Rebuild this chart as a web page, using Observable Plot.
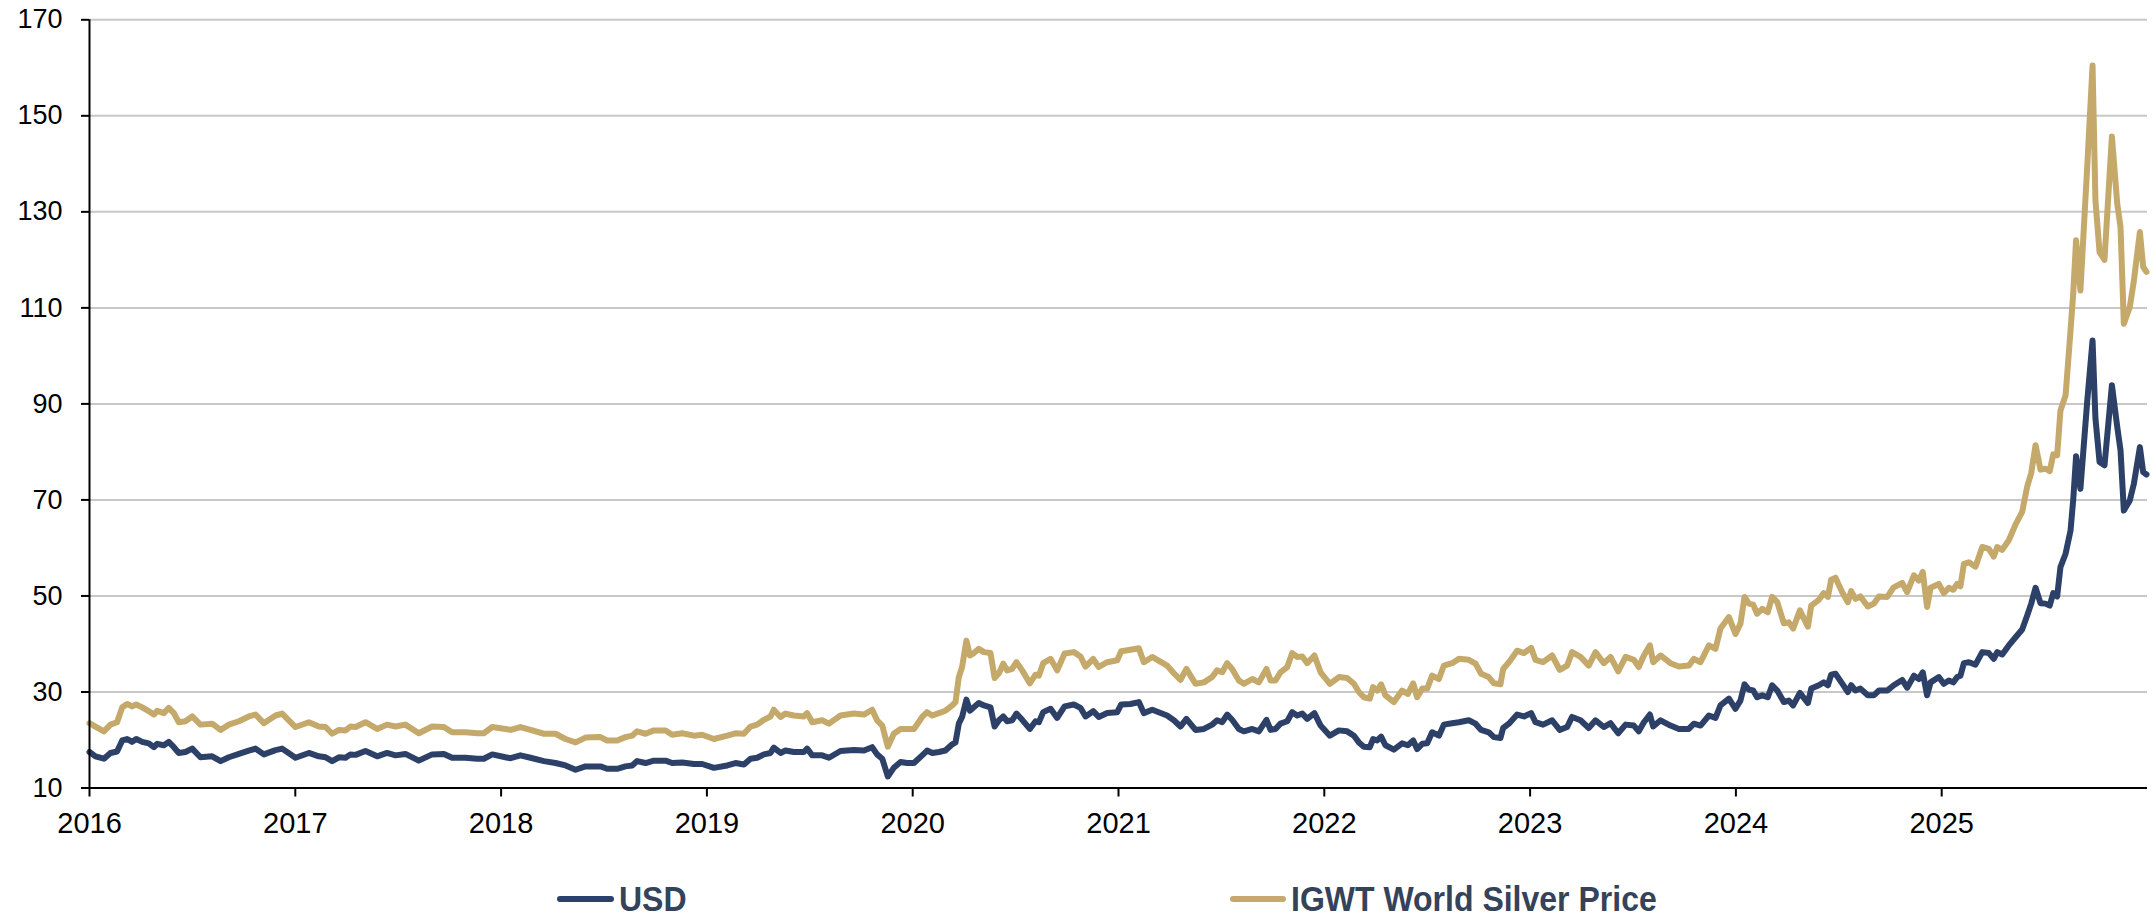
<!DOCTYPE html>
<html><head><meta charset="utf-8">
<script src="https://cdn.jsdelivr.net/npm/d3@7"></script>
<script src="https://cdn.jsdelivr.net/npm/@observablehq/plot@0.6"></script>
<style>
html,body{margin:0;padding:0;background:#fff;}
#chart{position:relative;width:2154px;height:915px;font-family:"Liberation Sans",Arial,sans-serif;}
#legend{position:absolute;left:0;top:877px;width:2154px;height:44px;}
.item{position:absolute;top:0;height:44px;display:flex;align-items:center;}
.sw{height:6px;border-radius:3px;}
.lab{font-weight:bold;font-size:32px;color:#34425a;margin-left:5px;transform:scaleY(1.1);white-space:nowrap;line-height:1;}
</style></head>
<body>
<div id="chart"><div id="plot"></div>
<div id="legend">
  <div class="item" style="left:557px"><div class="sw" style="width:57px;background:#2d4168"></div><span class="lab">USD</span></div>
  <div class="item" style="left:1230px"><div class="sw" style="width:56px;background:#c4a96b"></div><span class="lab">IGWT World Silver Price</span></div>
</div></div>
<script>
const years = [
2016.000,2016.029,2016.070,2016.102,2016.134,2016.159,2016.183,2016.207,2016.227,2016.256,2016.288,2016.313,2016.329,2016.361,2016.385,2016.410,2016.434,2016.466,2016.499,2016.539,2016.596,2016.637,2016.677,2016.726,2016.774,2016.807,2016.847,2016.904,2016.936,2017.001,2017.066,2017.114,2017.147,2017.179,2017.212,2017.244,2017.268,2017.293,2017.341,2017.398,2017.446,2017.487,2017.535,2017.600,2017.665,2017.722,2017.762,2017.827,2017.884,2017.916,2017.957,2018.021,
2018.046,2018.094,2018.143,2018.208,2018.264,2018.313,2018.362,2018.410,2018.483,2018.515,2018.564,2018.604,2018.637,2018.661,2018.702,2018.742,2018.799,2018.831,2018.880,2018.937,2018.977,2019.034,2019.099,2019.139,2019.180,2019.212,2019.244,2019.277,2019.309,2019.325,2019.358,2019.382,2019.422,2019.471,2019.487,2019.512,2019.560,2019.593,2019.649,2019.714,2019.763,2019.803,2019.827,2019.852,2019.879,2019.908,2019.941,2019.973,2020.006,
2020.046,2020.070,2020.095,2020.127,2020.159,2020.192,2020.208,2020.224,2020.240,2020.261,2020.278,2020.297,2020.321,2020.346,2020.378,2020.398,2020.419,2020.440,2020.459,2020.483,2020.504,2020.532,2020.569,2020.597,2020.613,2020.634,2020.670,2020.702,2020.738,2020.783,2020.815,2020.840,2020.877,2020.904,2020.945,2020.994,2021.013,2021.058,2021.099,2021.123,2021.164,2021.236,2021.269,2021.301,2021.330,2021.374,2021.415,2021.455,2021.479,2021.504,2021.528,2021.552,2021.585,2021.609,2021.650,2021.682,2021.719,2021.739,2021.763,2021.787,2021.820,2021.844,2021.868,2021.893,2021.917,2021.952,2021.982,2022.027,
2022.071,2022.111,2022.144,2022.168,2022.192,2022.221,2022.237,2022.257,2022.276,2022.297,2022.338,2022.378,2022.406,2022.432,2022.451,2022.476,2022.500,2022.524,2022.557,2022.581,2022.621,2022.654,2022.702,2022.735,2022.762,2022.799,2022.824,2022.856,2022.869,2022.897,2022.937,2022.970,2023.005,2023.026,2023.063,2023.107,2023.144,2023.180,2023.204,2023.245,2023.285,2023.318,2023.358,2023.391,2023.428,2023.464,2023.504,2023.528,2023.553,2023.582,2023.598,2023.634,2023.682,2023.723,2023.771,2023.796,2023.828,2023.869,2023.901,2023.925,2023.966,2023.998,
2024.022,2024.042,2024.063,2024.084,2024.103,2024.128,2024.155,2024.176,2024.201,2024.233,2024.257,2024.278,2024.311,2024.350,2024.366,2024.403,2024.427,2024.447,2024.463,2024.484,2024.516,2024.544,2024.560,2024.581,2024.605,2024.641,2024.670,2024.695,2024.735,2024.767,2024.808,2024.832,2024.865,2024.889,2024.908,2024.929,2024.946,2024.986,2025.010,2025.035,2025.056,2025.075,2025.091,2025.108,2025.132,2025.164,2025.197,2025.229,2025.253,2025.270,2025.294,2025.326,2025.359,2025.391,2025.415,2025.435,2025.456,2025.480,2025.504,2025.525,2025.542,2025.561,2025.577,2025.602,
2025.626,2025.639,2025.653,2025.674,2025.707,2025.733,2025.747,2025.767,2025.791,2025.827,2025.853,2025.869,2025.885,2025.914,2025.934,2025.963,2025.979,2025.995
];
const usd = [
17.5,16.6,16.1,17.3,17.6,19.9,20.2,19.6,20.2,19.6,19.3,18.5,19.2,18.9,19.6,18.5,17.3,17.5,18.2,16.4,16.6,15.6,16.4,17.1,17.8,18.2,17.0,17.9,18.2,16.3,17.3,16.6,16.4,15.6,16.4,16.3,17.0,16.9,17.7,16.6,17.3,16.8,17.1,15.7,17.0,17.1,16.3,16.3,16.1,16.1,17.0,16.4,
16.2,16.8,16.3,15.6,15.2,14.7,13.8,14.5,14.5,14.0,14.0,14.5,14.7,15.6,15.2,15.7,15.7,15.2,15.3,15.0,15.0,14.2,14.7,15.2,14.9,16.1,16.3,17.0,17.3,18.4,17.3,17.8,17.5,17.5,18.2,16.8,16.8,16.3,17.7,17.9,17.8,18.5,17.0,16.1,12.4,14.2,15.4,15.2,15.2,
16.8,17.8,17.3,17.5,17.8,19.1,19.5,23.4,24.8,28.4,26.1,26.8,27.7,27.2,26.8,22.8,24.1,24.9,23.9,24.1,25.5,24.2,22.3,23.9,23.7,25.8,26.5,24.6,27.0,27.4,26.7,24.9,26.0,24.8,25.6,25.8,27.4,27.5,27.9,25.6,26.3,25.1,24.1,22.8,24.4,22.1,22.3,23.2,24.1,23.7,25.3,24.2,22.3,21.8,22.3,21.8,24.2,22.1,22.3,23.4,23.9,25.8,25.1,25.5,24.4,25.6,23.0,20.9,
22.0,21.8,20.9,19.5,18.6,18.5,20.2,19.9,20.7,18.9,18.0,19.3,18.9,19.9,18.1,19.2,19.3,21.6,20.9,23.2,23.5,23.7,24.1,23.4,22.1,21.6,20.6,20.4,22.5,23.4,25.3,24.9,25.6,23.7,23.2,24.1,22.1,22.7,24.8,24.1,22.5,24.1,22.7,23.5,21.4,23.2,23.0,21.8,23.7,25.3,22.8,24.1,23.0,22.3,22.3,23.4,23.0,25.1,24.6,27.2,28.6,26.5,
28.2,31.6,30.5,30.3,28.9,29.3,28.9,31.4,30.3,27.9,28.2,27.2,29.8,27.7,30.7,31.4,32.0,31.4,33.6,33.8,31.8,30.0,31.4,30.3,30.7,29.3,29.3,30.3,30.3,31.4,32.5,30.9,33.4,32.7,34.1,29.3,32.0,33.1,31.7,32.4,32.0,33.1,33.4,36.0,36.2,35.7,38.3,38.1,36.9,38.3,37.8,39.7,41.4,43.0,45.9,48.4,51.7,48.5,48.4,48.0,50.6,49.9,56.0,58.8,
63.6,70.0,79.1,72.3,90.5,103.2,87.0,77.9,77.2,93.9,85.2,80.3,67.8,69.9,73.4,81.0,75.8,75.3
];
const igwt = [
23.5,22.8,21.8,23.2,23.7,26.8,27.5,27.0,27.4,26.8,26.0,25.3,26.1,25.6,26.7,25.6,23.7,23.9,24.9,23.2,23.4,22.1,23.2,23.9,24.9,25.3,23.5,25.1,25.5,22.7,23.7,22.8,22.7,21.3,22.1,22.0,22.8,22.7,23.7,22.3,23.2,22.8,23.2,21.4,22.8,22.7,21.6,21.6,21.4,21.4,22.7,22.3,
22.1,22.7,22.1,21.3,21.3,20.2,19.5,20.5,20.6,19.9,19.9,20.6,20.9,21.8,21.3,22.0,22.0,21.1,21.4,20.9,21.1,20.2,20.9,21.4,21.3,22.8,23.2,24.2,24.9,26.3,24.8,25.5,25.1,24.9,25.6,23.7,24.1,23.4,25.1,25.5,25.3,26.3,24.1,23.0,18.6,21.3,22.3,22.3,22.3,
24.8,25.8,25.1,25.6,26.1,27.2,27.9,33.1,35.2,40.7,37.6,38.1,39.0,38.3,38.1,32.9,33.9,35.9,34.5,34.8,36.2,34.5,31.8,33.6,33.4,36.0,36.9,34.5,38.0,38.3,37.4,35.3,36.9,35.2,36.2,36.6,38.5,38.8,39.1,36.2,37.3,35.5,33.9,32.5,34.8,31.7,32.0,33.1,34.5,34.1,36.0,34.8,32.4,31.7,32.7,32.0,34.8,32.4,32.4,34.1,35.2,38.1,37.3,37.4,36.0,37.6,34.1,31.7,
33.1,32.9,31.7,30.0,28.9,28.6,31.0,30.3,31.6,29.3,27.9,30.3,29.6,31.8,28.9,30.7,30.7,33.4,32.7,35.5,36.0,36.9,36.7,35.9,33.8,33.1,31.8,31.6,34.8,36.2,38.6,38.1,39.2,36.7,36.2,37.6,34.6,35.5,38.3,37.3,35.5,38.3,36.0,37.3,34.3,37.3,36.7,35.2,37.6,39.7,36.2,37.6,36.0,35.3,35.5,36.9,36.2,39.7,39.0,43.2,45.6,42.1,
44.2,49.8,48.4,48.2,46.3,47.3,46.6,49.8,48.7,44.3,44.5,43.2,47.0,43.6,48.0,49.2,50.6,49.8,53.4,53.8,50.8,48.7,51.0,49.4,49.9,47.8,48.4,49.9,49.8,51.8,52.7,50.8,54.3,53.2,55.0,47.7,51.7,52.5,50.6,51.7,51.3,52.5,52.0,56.7,57.0,56.1,60.2,59.8,58.2,60.2,59.6,61.6,64.9,67.5,72.7,75.6,81.4,76.3,76.5,76.0,79.5,79.3,88.6,91.8,
105.3,113.0,124.1,113.6,139.3,160.5,132.4,121.6,120.0,145.7,131.7,126.8,106.7,110.2,115.7,125.8,118.5,117.5
];
const yTicks = [10,30,50,70,90,110,130,150,170];
const gridTicks = [30,50,70,90,110,130,150,170];
const xTicks = [2016,2017,2018,2019,2020,2021,2022,2023,2024,2025];
const seriesNames = ["USD","IGWT World Silver Price"];
const colors = ["#2d4168","#c4a96b"];

const data = years.map((t,i)=>({t, usd: usd[i], igwt: igwt[i]}));

const chart = Plot.plot({
  width: 2154, height: 830,
  marginLeft: 89, marginRight: 7, marginTop: 19.3, marginBottom: 42.5,
  style: {fontFamily: '"Liberation Sans", Arial, sans-serif', background: "#fff", color: "#000", overflow: "visible"},
  x: {type: "linear", domain: [2016, 2026]},
  y: {domain: [10, 170]},
  marks: [
    Plot.gridY(gridTicks, {stroke: "#c8c8c8", strokeOpacity: 1, strokeWidth: 2}),
    Plot.line(data, {x: "t", y: "usd", stroke: colors[0], strokeWidth: 6, strokeLinejoin: "round", strokeLinecap: "round"}),
    Plot.line(data, {x: "t", y: "igwt", stroke: colors[1], strokeWidth: 6, strokeLinejoin: "round", strokeLinecap: "round"}),
    Plot.ruleX([2016], {stroke: "#000", strokeWidth: 2}),
    Plot.ruleY([10], {stroke: "#000", strokeWidth: 2}),
    Plot.axisY(yTicks, {tickSize: 8, tickPadding: 19, fontSize: 27, label: null, strokeWidth: 2}),
    Plot.axisX(xTicks, {tickSize: 9, tickPadding: 15, fontSize: 29, label: null, strokeWidth: 2, tickFormat: d => String(d)})
  ]
});
document.getElementById("plot").appendChild(chart);
</script>
</body></html>
